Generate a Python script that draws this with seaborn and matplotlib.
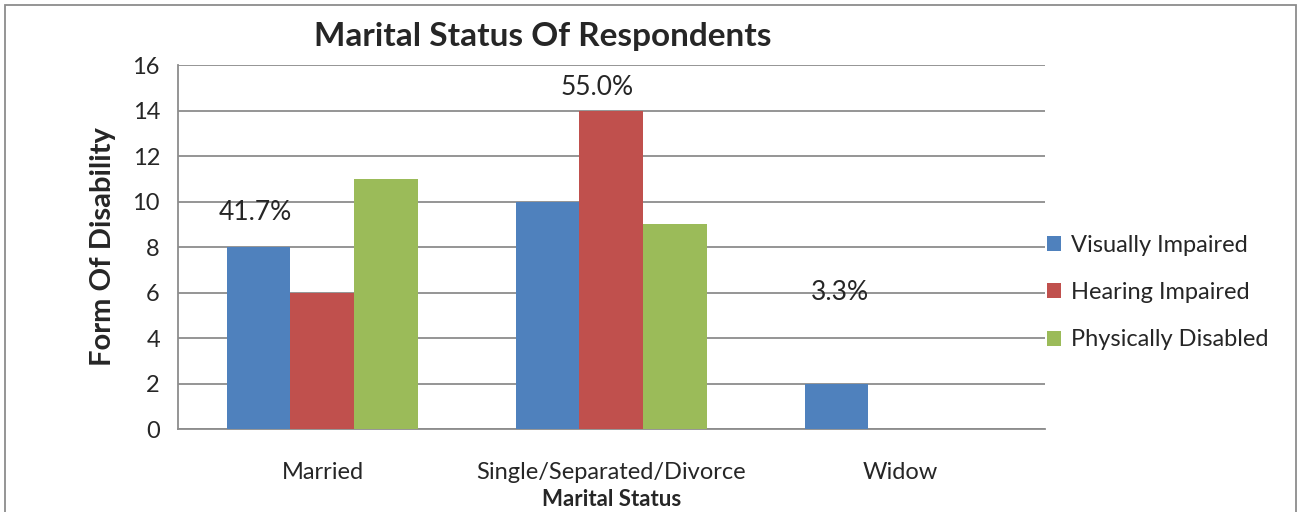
import matplotlib
matplotlib.use("Agg")
import matplotlib.pyplot as plt
import pandas as pd
import seaborn as sns

# data
statuses = ['Married', 'Single/Separated/Divorce', 'Widow']
visually = [8, 10, 2]
hearing = [6, 14, 0]
physically = [11, 9, 0]
pct_labels = ['41.7%', '55.0%', '3.3%']
pct_y = [9.5, 15.0, 6.0]
pct_dx = [-0.234, -0.05, -0.21]

groups = ['Visually Impaired', 'Hearing Impaired', 'Physically Disabled']
colors = ['#4F81BD', '#C0504D', '#9BBB59']

df = pd.DataFrame({
    'status': statuses * 3,
    'group': [g for g in groups for _ in statuses],
    'count': visually + hearing + physically,
})

sns.set_style('white')
plt.rcParams['font.family'] = ['Lato', 'DejaVu Sans']

fig = plt.figure(figsize=(13.01, 5.12), dpi=100)
ax = fig.add_axes([0.1368, 0.1621, 0.6664, 0.7109])

sns.barplot(data=df, x='status', y='count', hue='group', order=statuses,
            hue_order=groups, palette=colors, width=0.664, gap=0,
            saturation=1, linewidth=0, ax=ax, zorder=3)

ax.set_ylim(0, 16)
ax.set_yticks(range(0, 17, 2))
ax.set_xlim(-0.5, 2.5)
ax.yaxis.grid(True, color='#8c8c8c', linewidth=1.3, zorder=0)
ax.set_axisbelow(True)
for s in ['top', 'right']:
    ax.spines[s].set_visible(False)
for s in ['left', 'bottom']:
    ax.spines[s].set_color('#8c8c8c')
    ax.spines[s].set_linewidth(1.3)
ax.tick_params(axis='y', length=7, width=1.3, color='#8c8c8c', labelsize=17, pad=6)
ax.tick_params(axis='x', length=0, labelsize=17, pad=24)

for i, (lab, y, dx) in enumerate(zip(pct_labels, pct_y, pct_dx)):
    ax.text(i + dx, y, lab, ha='center', va='center', fontsize=19)

ax.set_ylabel('Form Of Disability', fontsize=21, fontweight='bold', labelpad=12)
ax.set_xlabel('Marital Status', fontsize=16, fontweight='bold', labelpad=4)
fig.text(0.417, 0.928, 'Marital Status Of Respondents', ha='center', va='center',
         fontsize=24, fontweight='bold')

leg = ax.legend(loc='center left', bbox_to_anchor=(1.0, 0.375), frameon=False,
                fontsize=17, handlelength=0.6, handleheight=0.6,
                handletextpad=0.4, labelspacing=1.12, borderaxespad=0.0,
                borderpad=0.1)

fig.patches.append(plt.Rectangle((0.004, -0.01), 0.992, 1.0, transform=fig.transFigure,
                                 fill=False, edgecolor='#8c8c8c', linewidth=1.3))

fig.savefig('out.png', dpi=100)
